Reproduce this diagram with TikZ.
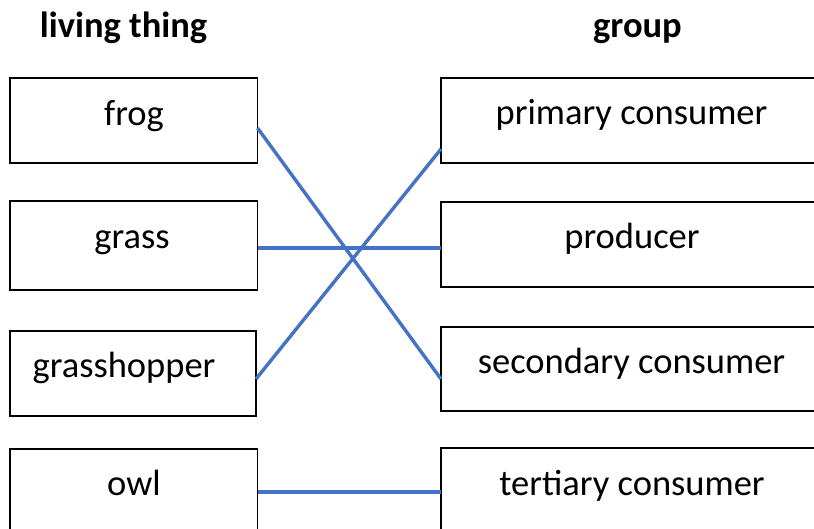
\documentclass[tikz,border=0pt]{standalone}
\usepackage{fontspec}
\setmainfont{Carlito}
\definecolor{connblue}{HTML}{4472C4}
\begin{document}
\begin{tikzpicture}[x=1pt,y=-1pt,
  box/.style={draw=black,line width=1.6pt,rectangle,inner sep=0pt,outer sep=0pt,anchor=north west,minimum width=#1},
  lbox/.style={box=247.5pt},
  rbox/.style={box=420pt},
  lbl/.style={anchor=base,inner sep=0pt,font=\fontsize{36.5}{44}\selectfont},
  head/.style={anchor=base,inner sep=0pt,font=\fontsize{36.5}{44}\selectfont\bfseries},
  conn/.style={draw=connblue,line width=3.4pt}]
\useasboundingbox (0,0) rectangle (814,528);
\clip (0,0) rectangle (814,528);
\fill[white] (0,0) rectangle (814,528);
% headings
\node[head] (h1) at (123.5,37) {living thing};
\node[head] (h2) at (637.5,37) {group};
% left boxes
\node[lbox,minimum height=85pt] (frog) at (10,78) {};
\node[lbox,minimum height=89pt] (grass) at (10,201) {};
\node[lbox,minimum height=85pt,minimum width=246pt] (hopper) at (10,331) {};
\node[lbox,minimum height=85pt] (owl) at (10,449) {};
% right boxes
\node[rbox,minimum height=85pt] (prim) at (441,78) {};
\node[rbox,minimum height=85pt] (prod) at (441,202) {};
\node[rbox,minimum height=84pt] (sec) at (441,327) {};
\node[rbox,minimum height=85pt] (tert) at (441,448) {};
% texts
\node[lbl] (tfrog) at (134,125) {frog};
\node[lbl] (tgrass) at (132,248) {grass};
\node[lbl] (thop) at (124,377) {grasshopper};
\node[lbl] (towl) at (134,495) {owl};
\node[lbl] (tprim) at (631.5,124) {primary consumer};
\node[lbl] (tprod) at (632,248) {producer};
\node[lbl] (tsec) at (631.5,373) {secondary consumer};
\node[lbl] (ttert) at (632,495) {tertiary consumer};
% connectors
\draw[conn] ([yshift=-7.5pt]frog.east) -- ([yshift=-10pt]sec.west);
\draw[conn] ([yshift=-28.5pt]prim.west) -- ([yshift=-5.5pt]hopper.east);
\draw[conn] ([yshift=-2.5pt]grass.east) -- ([yshift=-3.5pt]prod.west);
\draw[conn] ([yshift=-43pt]owl.north east) -- ([yshift=-44pt]tert.north west);
\end{tikzpicture}
\end{document}
